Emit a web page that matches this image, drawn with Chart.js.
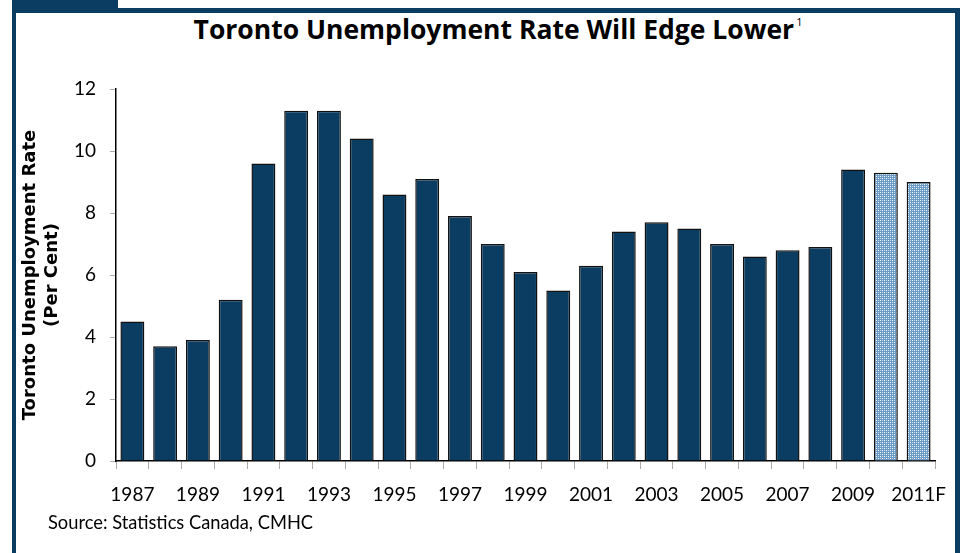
<!DOCTYPE html>
<html>
<head>
<meta charset="utf-8">
<script src="https://cdn.jsdelivr.net/npm/chart.js@4.4.1/dist/chart.umd.min.js"></script>
<style>
  html,body{margin:0;padding:0;background:#fff;}
  body{width:962px;height:553px;position:relative;overflow:hidden;font-family:Lato,"Open Sans",sans-serif;}
  .frame{position:absolute;background:#0b3d62;}
  #title{position:absolute;left:0;width:996px;top:11px;text-align:center;font-family:"Open Sans",sans-serif;font-weight:bold;font-size:26.5px;color:#000;white-space:nowrap;letter-spacing:0;}
  #title sup{font-size:11px;font-weight:normal;vertical-align:top;position:relative;top:3px;margin-left:2px;}
  #source{position:absolute;left:48px;top:511px;font-size:18.3px;color:#000;}
  canvas{position:absolute;left:0;top:0;}
</style>
</head>
<body>
<div class="frame" style="left:12px;top:0;width:106px;height:9px"></div>
<div class="frame" style="left:12px;top:8px;width:948px;height:5px"></div>
<div class="frame" style="left:12px;top:0;width:4px;height:553px"></div>
<div class="frame" style="left:955px;top:8px;width:5px;height:545px"></div>
<div id="title">Toronto Unemployment Rate Will Edge Lower<sup>1</sup></div>
<canvas id="c" width="962" height="553"></canvas>
<div id="source">Source: Statistics Canada, CMHC</div>
<script>
// data
const years=['1987','1988','1989','1990','1991','1992','1993','1994','1995','1996','1997','1998','1999','2000','2001','2002','2003','2004','2005','2006','2007','2008','2009','2010','2011F'];
const rates=[4.5,3.7,3.9,5.2,9.6,11.3,11.3,10.4,8.6,9.1,7.9,7.0,6.1,5.5,6.3,7.4,7.7,7.5,7.0,6.6,6.8,6.9,9.4,9.3,9.0];
const forecastFrom=23; // 2010 and 2011F drawn hatched

// hatched fill for forecast bars
const pc=document.createElement('canvas'); pc.width=4; pc.height=4;
const px=pc.getContext('2d');
px.fillStyle='#6a9ac6'; px.fillRect(0,0,4,4);
px.fillStyle='#ffffff'; px.fillRect(0,0,1,1); px.fillRect(2,2,1,1);
px.fillStyle='#c4d8ea'; px.fillRect(2,0,1,1); px.fillRect(0,2,1,1);
const hatch=document.getElementById('c').getContext('2d').createPattern(pc,'repeat');

const fills=rates.map((v,i)=>i>=forecastFrom?hatch:'#0b3d62');
const font='Lato, "Open Sans", sans-serif';

new Chart(document.getElementById('c'),{
  type:'bar',
  data:{labels:years,datasets:[{data:rates,backgroundColor:fills,borderColor:'#111',borderWidth:1.5,
    categoryPercentage:1,barPercentage:0.73}]},
  options:{
    responsive:false,animation:false,
    layout:{padding:{top:89,right:27,left:0,bottom:0}},
    plugins:{legend:{display:false},tooltip:{enabled:false}},
    scales:{
      x:{
        grid:{display:true,drawOnChartArea:false,offset:true,tickLength:8,tickColor:'#aaa',tickWidth:1},
        border:{color:'#000',width:1.5},
        ticks:{autoSkip:false,maxRotation:0,padding:14,color:'#000',font:{family:font,size:19},
          callback:(v,i)=>i%2===0?years[i]:''},
        afterFit:s=>{s.height=92;}
      },
      y:{
        min:0,max:12,
        grid:{display:true,drawOnChartArea:false,tickLength:6,tickColor:'#aaa',tickWidth:1},
        border:{color:'#000',width:1.5},
        ticks:{stepSize:2,padding:14,color:'#000',font:{family:font,size:19}},
        title:{display:true,text:['Toronto Unemployment Rate','(Per Cent)'],color:'#000',
          font:{family:'"DejaVu Sans", sans-serif',size:18,weight:'bold',lineHeight:1.2},padding:{top:20,bottom:0}},
        afterFit:s=>{s.width=116;}
      }
    }
  }
});
</script>
</body>
</html>
